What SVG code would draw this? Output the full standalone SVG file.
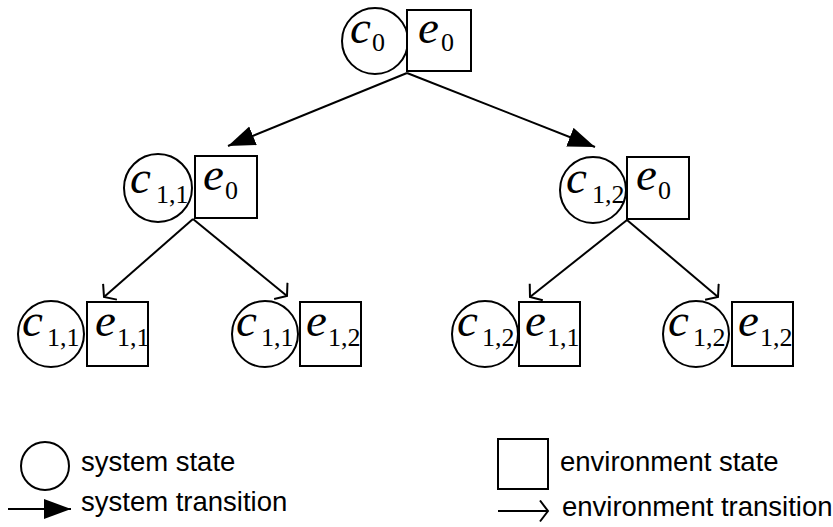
<svg xmlns="http://www.w3.org/2000/svg" width="833" height="527" viewBox="0 0 833 527">
<style>
.st{fill:#fff;stroke:#000;stroke-width:2}
.ln{fill:none;stroke:#000;stroke-width:2}
.v{font-family:"Liberation Serif","DejaVu Serif",serif;font-style:italic;font-size:47px;fill:#000}
.s{font-family:"Liberation Serif",serif;font-size:26px;fill:#000}
.lg{font-family:"Liberation Sans",Arial,sans-serif;font-size:27.5px;fill:#000}
</style>
<defs>
<marker id="sys" markerUnits="userSpaceOnUse" markerWidth="30" markerHeight="22" refX="27" refY="10" orient="auto">
<path d="M0,0 L27,10 L0,20 z" fill="#000"/>
</marker>
<marker id="env" markerUnits="userSpaceOnUse" markerWidth="12" markerHeight="24" refX="9" refY="11" orient="auto">
<path d="M1,0.5 L9,11 L1,21.5" fill="none" stroke="#000" stroke-width="2"/>
</marker>
</defs>
<g id="connectors">
<line class="ln" x1="407" y1="73" x2="228" y2="146" marker-end="url(#sys)"/>
<line class="ln" x1="407" y1="73" x2="595" y2="147" marker-end="url(#sys)"/>
<line class="ln" x1="193" y1="219" x2="104" y2="297" marker-end="url(#env)"/>
<line class="ln" x1="193" y1="219" x2="287" y2="296" marker-end="url(#env)"/>
<line class="ln" x1="627" y1="220" x2="530" y2="297" marker-end="url(#env)"/>
<line class="ln" x1="627" y1="220" x2="718" y2="297" marker-end="url(#env)"/>
</g>
<g id="n0">
<circle class="st" cx="375" cy="41" r="33"/>
<rect class="st" x="407" y="10" width="64" height="61"/>
<text class="v" x="350" y="43">c</text><text class="s" x="372" y="51">0</text>
<text class="v" x="418" y="43">e</text><text class="s" x="441" y="51">0</text>
</g>
<g id="n11">
<circle class="st" cx="158" cy="188" r="34"/>
<rect class="st" x="195" y="156" width="62" height="62"/>
<text class="v" x="130" y="193">c</text><text class="s" x="156" y="203">1,1</text>
<text class="v" x="203" y="190">e</text><text class="s" x="225" y="199">0</text>
</g>
<g id="n12">
<circle class="st" cx="593" cy="190" r="33"/>
<rect class="st" x="627" y="157" width="62" height="62"/>
<text class="v" x="566" y="193">c</text><text class="s" x="592" y="203">1,2</text>
<text class="v" x="636" y="190">e</text><text class="s" x="658" y="199">0</text>
</g>
<g id="n111">
<circle class="st" cx="51" cy="334" r="33"/>
<rect class="st" x="87" y="302" width="61" height="64"/>
<text class="v" x="22" y="336">c</text><text class="s" x="47" y="346">1,1</text>
<text class="v" x="95" y="336">e</text><text class="s" x="117" y="346">1,1</text>
</g>
<g id="n112">
<circle class="st" cx="265" cy="334" r="33"/>
<rect class="st" x="300" y="302" width="61" height="64"/>
<text class="v" x="236" y="336">c</text><text class="s" x="261" y="346">1,1</text>
<text class="v" x="306" y="336">e</text><text class="s" x="328" y="346">1,2</text>
</g>
<g id="n121">
<circle class="st" cx="485" cy="334" r="33"/>
<rect class="st" x="519" y="302" width="61" height="64"/>
<text class="v" x="457" y="336">c</text><text class="s" x="482" y="346">1,2</text>
<text class="v" x="525" y="336">e</text><text class="s" x="547" y="346">1,1</text>
</g>
<g id="n122">
<circle class="st" cx="696" cy="334" r="33"/>
<rect class="st" x="732" y="302" width="61" height="64"/>
<text class="v" x="668" y="336">c</text><text class="s" x="693" y="346">1,2</text>
<text class="v" x="738" y="336">e</text><text class="s" x="760" y="346">1,2</text>
</g>
<g id="legend">
<circle class="st" cx="45" cy="466" r="24"/>
<text class="lg" x="81" y="471">system state</text>
<line class="ln" x1="8" y1="509" x2="71" y2="509" marker-end="url(#sys)"/>
<text class="lg" x="81" y="511">system transition</text>
<rect class="st" x="498" y="439" width="50" height="50"/>
<text class="lg" x="560" y="471">environment state</text>
<line class="ln" x1="498" y1="511" x2="548" y2="511" marker-end="url(#env)"/>
<text class="lg" x="562" y="516">environment transition</text>
</g>
</svg>
